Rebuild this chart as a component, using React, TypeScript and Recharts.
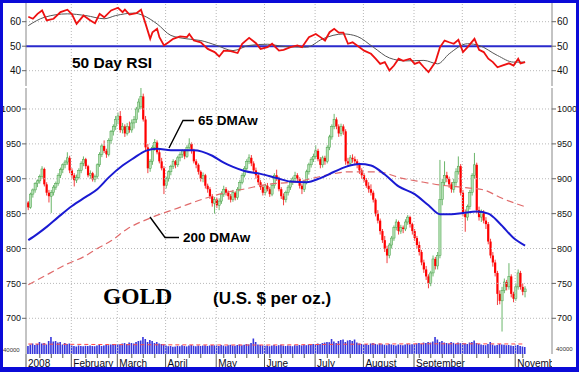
import React from 'react';
import { ComposedChart, Bar, Line, XAxis, YAxis, ReferenceLine } from 'recharts';

type OHLC = [number, number, number, number]; // open, high, low, close

const janCandles: OHLC[] = [
  [866, 868, 855, 859], [859, 880, 857, 878], [878, 886, 873, 884], [884, 895, 880, 893], [893, 899, 888, 897],
  [897, 906, 893, 903], [903, 918, 900, 914], [914, 916, 889, 892], [892, 895, 876, 880], [880, 884, 866, 875],
  [875, 884, 851, 880], [880, 891, 876, 888], [888, 896, 884, 893], [893, 908, 890, 905], [905, 916, 901, 913],
  [913, 922, 908, 920], [920, 927, 915, 924], [924, 938, 920, 930], [930, 933, 908, 912],
];
const febCandles: OHLC[] = [
  [912, 915, 900, 905], [905, 908, 889, 898], [898, 906, 894, 902], [902, 915, 899, 912], [912, 925, 908, 922],
  [922, 932, 918, 928], [928, 930, 914, 918], [918, 920, 902, 905], [905, 912, 900, 908], [908, 910, 896, 899],
  [899, 906, 895, 903], [903, 922, 900, 920], [920, 938, 917, 935], [935, 950, 931, 947], [947, 955, 937, 940],
  [940, 943, 930, 935], [935, 958, 932, 955], [955, 970, 950, 968], [968, 978, 962, 975], [975, 990, 970, 985],
];
const marCandles: OHLC[] = [
  [985, 995, 978, 990], [990, 997, 966, 970], [970, 980, 965, 975], [975, 978, 960, 965], [965, 980, 962, 975],
  [975, 982, 966, 970], [970, 985, 966, 980], [980, 990, 972, 985], [985, 1003, 980, 1000], [1000, 1015, 995, 1010],
  [1003, 1034, 1000, 1018], [1018, 1022, 982, 985], [985, 990, 940, 945], [945, 950, 908, 915], [915, 928, 910, 925],
  [925, 948, 920, 945], [945, 957, 940, 952], [952, 955, 935, 938], [938, 942, 922, 925], [925, 930, 912, 915],
  [915, 918, 878, 890],
];
const aprCandles: OHLC[] = [
  [890, 903, 886, 900], [900, 912, 896, 910], [910, 920, 905, 918], [918, 928, 914, 925], [925, 927, 915, 920],
  [920, 933, 917, 930], [930, 938, 925, 935], [935, 942, 930, 940], [940, 942, 928, 932], [932, 948, 930, 945],
  [945, 958, 942, 950], [950, 952, 936, 940], [940, 943, 922, 925], [925, 928, 915, 920], [920, 922, 906, 910],
  [910, 912, 896, 900], [900, 909, 895, 905], [905, 907, 886, 890], [890, 893, 880, 885], [885, 888, 871, 875],
  [875, 878, 860, 865], [865, 874, 850, 870],
];
const mayCandles: OHLC[] = [
  [870, 873, 858, 862], [862, 872, 855, 868], [868, 882, 864, 878], [878, 890, 874, 885], [885, 888, 876, 880],
  [880, 883, 870, 875], [875, 878, 866, 870], [870, 884, 867, 880], [880, 882, 869, 873], [873, 888, 870, 885],
  [885, 898, 882, 895], [895, 908, 892, 905], [905, 918, 902, 915], [915, 928, 912, 925], [925, 935, 921, 930],
  [930, 934, 918, 922], [922, 925, 908, 912], [912, 916, 900, 905], [905, 908, 891, 895], [895, 898, 884, 888],
  [888, 891, 876, 880],
];
const junCandles: OHLC[] = [
  [880, 893, 876, 890], [890, 894, 882, 885], [885, 888, 874, 878], [878, 893, 875, 890], [890, 908, 886, 905],
  [905, 913, 897, 900], [900, 903, 882, 885], [885, 888, 871, 875], [875, 879, 862, 870], [870, 883, 866, 880],
  [880, 891, 876, 888], [888, 898, 884, 895], [895, 903, 891, 900], [900, 910, 896, 905], [905, 908, 896, 900],
  [900, 902, 886, 890], [890, 893, 878, 885], [885, 898, 881, 895], [895, 913, 892, 910], [910, 923, 906, 920],
  [920, 931, 916, 928], [928, 936, 924, 932],
];
const julCandles: OHLC[] = [
  [932, 948, 928, 940], [940, 943, 925, 928], [928, 931, 915, 920], [920, 933, 916, 930], [930, 933, 920, 925],
  [925, 948, 922, 945], [945, 963, 941, 960], [960, 978, 956, 975], [975, 993, 971, 985], [985, 988, 971, 975],
  [975, 978, 960, 965], [965, 979, 961, 975], [975, 978, 963, 968], [968, 971, 920, 925], [925, 930, 917, 922],
  [922, 934, 918, 930], [930, 935, 923, 928], [928, 932, 920, 925], [925, 928, 915, 920], [920, 923, 907, 912],
  [912, 915, 900, 905],
];
const augCandles: OHLC[] = [
  [905, 908, 895, 898], [898, 901, 887, 890], [890, 895, 880, 885], [885, 892, 876, 880], [880, 883, 866, 870],
  [870, 872, 846, 850], [850, 855, 836, 840], [840, 843, 820, 825], [825, 828, 808, 812], [812, 818, 795, 800],
  [800, 804, 779, 790], [790, 808, 786, 805], [805, 818, 800, 815], [815, 833, 811, 830], [830, 842, 826, 838],
  [838, 840, 820, 825], [825, 834, 821, 830], [830, 833, 822, 828], [828, 842, 825, 838], [838, 848, 834, 845],
  [845, 847, 830, 835], [835, 837, 820, 825],
];
const sepCandles: OHLC[] = [
  [825, 828, 811, 815], [815, 818, 800, 805], [805, 810, 790, 795], [795, 798, 776, 780], [780, 784, 765, 770],
  [770, 775, 755, 760], [760, 763, 743, 750], [750, 768, 746, 765], [765, 790, 760, 785], [785, 788, 770, 775],
  [775, 795, 770, 790], [790, 927, 786, 870], [870, 900, 862, 895], [895, 925, 890, 905], [905, 910, 895, 900],
  [900, 903, 887, 892], [892, 895, 880, 885], [885, 900, 880, 895], [895, 915, 890, 910], [910, 932, 906, 918],
  [918, 921, 876, 880],
];
const octCandles: OHLC[] = [
  [880, 884, 846, 850], [850, 856, 824, 845], [845, 863, 840, 860], [860, 884, 856, 880], [880, 908, 876, 905],
  [905, 937, 900, 920], [920, 923, 850, 855], [855, 860, 840, 845], [845, 856, 838, 852], [852, 855, 836, 840],
  [840, 845, 828, 835], [835, 838, 806, 810], [810, 814, 786, 790], [790, 795, 774, 780], [780, 784, 760, 765],
  [765, 768, 719, 735], [735, 740, 720, 725], [725, 745, 681, 740], [740, 757, 736, 752], [752, 755, 740, 745],
  [745, 779, 741, 760], [760, 763, 730, 735], [735, 738, 723, 728],
];
const novCandles: OHLC[] = [
  [728, 750, 725, 745], [745, 770, 741, 765], [765, 768, 741, 745], [745, 750, 733, 738], [738, 746, 730, 742],
];

const volJan = [80, 95, 105, 90, 100, 120, 105, 110, 95, 130, 170, 125, 130, 115, 120, 95, 110, 100, 105];
const volFeb = [85, 80, 75, 85, 80, 78, 82, 80, 85, 80, 78, 85, 90, 80, 85, 90, 88, 95, 100, 95];
const volMar = [100, 95, 105, 110, 100, 115, 110, 105, 120, 130, 135, 170, 150, 120, 140, 130, 110, 120, 105, 100, 95];
const volApr = [85, 78, 80, 72, 75, 82, 78, 88, 80, 76, 85, 90, 82, 78, 86, 80, 84, 88, 80, 85, 90, 86];
const volMay = [85, 80, 90, 84, 78, 88, 92, 86, 82, 90, 95, 88, 92, 100, 96, 110, 155, 120, 95, 90, 86];
const volJun = [82, 86, 78, 84, 90, 80, 88, 92, 84, 80, 86, 82, 78, 88, 84, 90, 86, 92, 88, 95, 90, 100];
const volJul = [96, 105, 100, 110, 115, 120, 118, 150, 125, 110, 130, 140, 145, 120, 135, 140, 130, 145, 115, 105, 100];
const volAug = [95, 100, 90, 105, 110, 100, 95, 105, 98, 92, 88, 100, 95, 90, 85, 95, 92, 88, 96, 100, 95, 98];
const volSep = [100, 105, 110, 100, 115, 110, 120, 115, 125, 170, 145, 120, 130, 115, 110, 105, 120, 112, 100, 115, 108];
const volOct = [110, 105, 100, 115, 120, 135, 110, 100, 95, 90, 88, 100, 120, 95, 85, 90, 100, 95, 92, 88, 90, 86, 80];
const volNov = [85, 90, 80, 75, 70];

const ma65Points: [number, number][] = [
  [0, 812], [4, 821], [8, 831], [13, 845], [19, 861], [25, 874], [30, 885], [35, 902], [41, 919], [46, 930],
  [51, 940], [56, 943], [62, 941], [72, 941], [80, 933], [85, 923], [89, 917], [94, 911], [101, 907], [108, 901],
  [114, 896], [121, 895], [127, 901], [133, 910], [138, 917], [144, 921], [149, 919], [155, 906], [161, 889],
  [168, 878], [174, 862], [179, 849], [184, 849], [189, 851], [195, 853], [200, 850], [205, 836], [211, 815], [216, 804],
];
const ma200Points: [number, number][] = [
  [0, 748], [9, 764], [17, 778], [24, 788], [30, 800], [36, 811], [43, 828], [54, 845], [65, 858], [77, 872],
  [87, 881], [95, 886], [102, 891], [117, 896], [128, 904], [140, 910], [152, 910], [162, 901], [172, 895],
  [179, 891], [191, 887], [198, 884], [206, 872], [216, 860],
];
const volMaPoints: [number, number][] = [
  [0, 100], [30, 95], [60, 92], [100, 90], [140, 98], [180, 102], [216, 100],
];
const rsiPoints: [number, number][] = [
  [0, 62], [2, 61.2], [4, 63.2], [6, 64.6], [8, 60.5], [11, 61.2], [14, 63.9], [17, 64.9], [19, 63], [21, 59.1],
  [24, 62.5], [27, 60.5], [29, 59.4], [31, 63.2], [33, 61.8], [36, 64.6], [39, 65.7], [41, 63.9], [42, 64.9],
  [44, 62.9], [47, 63.5], [49, 64.9], [51, 59.1], [53, 53], [54, 55.7], [56, 57.1], [57, 53.7], [59, 50.3],
  [61, 51.6], [63, 53], [66, 54], [69, 53.7], [70, 55], [72, 52.3], [75, 51.6], [78, 48.9], [81, 47.6],
  [83, 45.8], [85, 48.2], [88, 48], [91, 47.2], [93, 51], [96, 53.4], [99, 51.2], [101, 48.9], [104, 49.6],
  [106, 51], [109, 48.2], [111, 48.5], [114, 49.6], [117, 50.3], [119, 49.6], [122, 53.7], [125, 55],
  [127, 53.7], [129, 52.3], [131, 55.7], [133, 57.1], [135, 55.5], [137, 55.5], [139, 51], [141, 51.6],
  [144, 49.6], [146, 48.2], [149, 46.9], [151, 44.9], [153, 42.8], [155, 43.5], [157, 40.1], [159, 42.1],
  [161, 44.9], [163, 44], [166, 44.9], [168, 42.8], [170, 43.5], [172, 41.4], [174, 39.4], [175, 40.8],
  [177, 43.5], [179, 49.6], [181, 52.3], [183, 51.6], [185, 51], [187, 52.6], [189, 47.6], [191, 49.6],
  [194, 53], [196, 48.5], [198, 47.6], [200, 44.9], [202, 43.5], [204, 41.4], [206, 42.1], [209, 43],
  [211, 42.1], [213, 44.9], [214, 43], [216, 43.5],
];
const rsiSignalPoints: [number, number][] = [
  [0, 58.4], [7, 61.8], [17, 63.2], [25, 62.5], [33, 61.2], [38, 62.5], [46, 63.5], [50, 62.5], [56, 59.1],
  [62, 54.4], [69, 53], [75, 52.3], [82, 50.3], [89, 48.2], [96, 50.3], [104, 50.8], [111, 49.9], [121, 49.6],
  [128, 53], [137, 55], [143, 54], [150, 49.6], [157, 45.2], [164, 44], [172, 44.2], [178, 42.8], [183, 46.9],
  [191, 51], [196, 50.3], [204, 46.2], [211, 43.5], [216, 43.5],
];

const monthTickIdx = [-1, 18.7, 38.7, 59.7, 81.7, 102.7, 124.7, 145.7, 167.7, 188.7, 211.7];
const monthLabels = ['2008', 'February', 'March', 'April', 'May', 'June', 'July', 'August', 'September', '', 'November'];
const priceTicks = [700, 750, 800, 850, 900, 950, 1000];
const rsiTicks = [40, 50, 60];

const allCandles: OHLC[] = [
  ...janCandles, ...febCandles, ...marCandles, ...aprCandles, ...mayCandles, ...junCandles,
  ...julCandles, ...augCandles, ...sepCandles, ...octCandles, ...novCandles,
];
const allVolumes = [
  ...volJan, ...volFeb, ...volMar, ...volApr, ...volMay, ...volJun,
  ...volJul, ...volAug, ...volSep, ...volOct, ...volNov,
];

const rows: any[] = allCandles.map(([o, h, l, c], i) => ({ i, o, h, l, c, range: [l, h], vol: allVolumes[i] }));
const put = (pts: [number, number][], key: string) => pts.forEach(([i, v]) => { if (rows[i]) rows[i][key] = v; });
put(ma65Points, 'ma65');
put(ma200Points, 'ma200');
put(volMaPoints, 'volMa');
put(rsiPoints, 'rsi');
put(rsiSignalPoints, 'rsiSig');

const minorTicks: number[] = [];
for (let k = 0; k <= 216; k += 5) {
  if (!monthTickIdx.some((m) => Math.abs(m - k) < 2)) minorTicks.push(k);
}
const allXTicks = [...monthTickIdx, ...minorTicks].sort((a, b) => a - b);

const X_DOMAIN: [number, number] = [-1, 227.7];
const PRICE_DOMAIN: [number, number] = [648.8, 1030.1];
const RSI_DOMAIN: [number, number] = [33.75, 67.63];
const FONT = 'Arial, "Liberation Sans", sans-serif';
const GRID = '#b8b8b8';
const PRICE_TOP = 2;
const PRICE_PLOT_H = 266;
const AXIS_Y = PRICE_TOP + PRICE_PLOT_H; // x-axis line inside the price chart's svg

function Candle(props: any) {
  const { x, y, width, height, payload } = props;
  if (!payload || height == null || isNaN(y)) return null;
  const { o, c, h, l } = payload;
  const top = Math.min(y, y + height);
  const hgt = Math.abs(height);
  const k = hgt / Math.max(1e-6, h - l);
  const py = (v: number) => top + (h - v) * k;
  const cx = x + width / 2;
  const up = c >= o;
  const bodyTop = py(Math.max(o, c));
  const bodyH = Math.max(1, py(Math.min(o, c)) - bodyTop);
  return (
    <g>
      <line x1={cx} x2={cx} y1={top} y2={top + hgt} stroke={up ? '#5aae5a' : '#f02828'} strokeWidth={0.9} />
      <rect
        x={cx - 1.1}
        y={bodyTop}
        width={2.2}
        height={bodyH}
        fill={up ? '#b4e0b4' : '#ff0000'}
        stroke={up ? '#46a046' : 'none'}
        strokeWidth={0.5}
      />
    </g>
  );
}

function XTick(props: any) {
  const { x, payload } = props;
  const y = AXIS_Y;
  const idx = monthTickIdx.indexOf(payload.value);
  if (idx < 0) {
    return <line x1={x} x2={x} y1={y} y2={y + 4} stroke="#555" strokeWidth={1} />;
  }
  const label = monthLabels[idx];
  return (
    <g>
      <defs>
        <clipPath id={`xclip${idx}`}>
          <rect x={0} y={0} width={552} height={300} />
        </clipPath>
      </defs>
      <line x1={x} x2={x} y1={y} y2={y + 13} stroke="#555" strokeWidth={1} />
      <text
        x={x + 2}
        y={y + 12.5}
        fontSize={10}
        fontFamily={FONT}
        fill="#0a0a20"
        textAnchor="start"
        clipPath={`url(#xclip${idx})`}
      >
        {label}
      </text>
    </g>
  );
}

export default function App() {
  return (
    <div style={{ position: 'absolute', left: 0, top: 0, width: 579, height: 372, background: '#fff', overflow: 'hidden' }}>
      {/* RSI panel */}
      <div style={{ position: 'absolute', left: 0, top: 0 }}>
        <ComposedChart width={579} height={88} data={rows} margin={{ top: 3, right: 0, bottom: 2, left: 0 }}>
          <XAxis xAxisId="x" dataKey="i" type="number" domain={X_DOMAIN} allowDataOverflow hide />
          <YAxis
            yAxisId="rsi"
            orientation="left"
            width={26}
            domain={RSI_DOMAIN}
            allowDataOverflow
            ticks={rsiTicks}
            interval={0}
            tickSize={4}
            tickMargin={1}
            axisLine={{ stroke: '#888' }}
            tickLine={{ stroke: '#666' }}
            tick={{ fontSize: 10, fill: '#111', fontFamily: FONT }}
          />
          <YAxis
            yAxisId="rsiR"
            orientation="right"
            width={27}
            domain={RSI_DOMAIN}
            allowDataOverflow
            ticks={rsiTicks}
            interval={0}
            tickSize={4}
            tickMargin={1}
            axisLine={{ stroke: '#888' }}
            tickLine={{ stroke: '#666' }}
            tick={{ fontSize: 10, fill: '#111', fontFamily: FONT }}
          />
          {monthTickIdx.slice(1).map((t) => (
            <ReferenceLine key={`rv${t}`} xAxisId="x" yAxisId="rsi" x={t} stroke={GRID} strokeDasharray="1 2" />
          ))}
          {[40, 60].map((t) => (
            <ReferenceLine key={`rh${t}`} xAxisId="x" yAxisId="rsi" y={t} stroke={GRID} strokeDasharray="1 2" />
          ))}
          <ReferenceLine xAxisId="x" yAxisId="rsi" y={50} stroke="#2a2acc" strokeWidth={2} />
          <Line
            xAxisId="x"
            yAxisId="rsi"
            dataKey="rsiSig"
            type="monotone"
            stroke="#555"
            strokeWidth={1}
            dot={false}
            connectNulls
            isAnimationActive={false}
          />
          <Line
            xAxisId="x"
            yAxisId="rsi"
            dataKey="rsi"
            type="linear"
            stroke="#ee1111"
            strokeWidth={1.8}
            dot={false}
            connectNulls
            isAnimationActive={false}
          />
        </ComposedChart>
      </div>

      {/* Price panel */}
      <div style={{ position: 'absolute', left: 0, top: 86 }}>
        <ComposedChart width={579} height={286} data={rows} margin={{ top: PRICE_TOP, right: 0, bottom: 0, left: 0 }}>
          <XAxis
            xAxisId="x"
            dataKey="i"
            type="number"
            domain={X_DOMAIN}
            allowDataOverflow
            ticks={allXTicks}
            interval={0}
            height={18}
            tickSize={0}
            tickMargin={0}
            tickLine={false}
            axisLine={{ stroke: '#666' }}
            tick={<XTick />}
          />
          <XAxis xAxisId="v" dataKey="i" type="number" domain={X_DOMAIN} allowDataOverflow hide />
          <YAxis
            yAxisId="price"
            orientation="left"
            width={26}
            domain={PRICE_DOMAIN}
            allowDataOverflow
            ticks={priceTicks}
            interval={0}
            tickSize={4}
            tickMargin={1}
            axisLine={{ stroke: '#888' }}
            tickLine={{ stroke: '#666' }}
            tick={{ fontSize: 9, fill: '#111', fontFamily: FONT }}
          />
          <YAxis
            yAxisId="priceR"
            orientation="right"
            width={27}
            domain={PRICE_DOMAIN}
            allowDataOverflow
            ticks={priceTicks}
            interval={0}
            tickSize={4}
            tickMargin={1}
            axisLine={{ stroke: '#888' }}
            tickLine={{ stroke: '#666' }}
            tick={{ fontSize: 9, fill: '#111', fontFamily: FONT }}
          />
          <YAxis yAxisId="vol" hide domain={[0, 2660]} allowDataOverflow />
          {monthTickIdx.slice(1).map((t) => (
            <ReferenceLine key={`pv${t}`} xAxisId="x" yAxisId="price" x={t} stroke={GRID} strokeDasharray="1 2" />
          ))}
          {priceTicks.map((t) => (
            <ReferenceLine key={`ph${t}`} xAxisId="x" yAxisId="price" y={t} stroke={GRID} strokeDasharray="1 2" />
          ))}
          <Bar
            xAxisId="v"
            yAxisId="vol"
            dataKey="vol"
            barSize={1.6}
            fill="#3535dc"
            isAnimationActive={false}
          />
          <Line
            xAxisId="x"
            yAxisId="vol"
            dataKey="volMa"
            type="monotone"
            stroke="#ff4a4a"
            strokeWidth={1}
            strokeDasharray="4 3"
            dot={false}
            connectNulls
            isAnimationActive={false}
          />
          <Line
            xAxisId="x"
            yAxisId="price"
            dataKey="ma200"
            type="monotone"
            stroke="#e06a6a"
            strokeWidth={1.2}
            strokeDasharray="7 4"
            dot={false}
            connectNulls
            isAnimationActive={false}
          />
          <Bar
            xAxisId="x"
            yAxisId="price"
            dataKey="range"
            barSize={2.2}
            shape={(p: any) => <Candle {...p} />}
            isAnimationActive={false}
          />
          <Line
            xAxisId="x"
            yAxisId="price"
            dataKey="ma65"
            type="monotone"
            stroke="#1a1ad2"
            strokeWidth={2}
            dot={false}
            connectNulls
            isAnimationActive={false}
          />
        </ComposedChart>
      </div>

      {/* Labels and leader lines */}
      <svg width={579} height={372} style={{ position: 'absolute', left: 0, top: 0, pointerEvents: 'none' }}>
        <text x={72} y={68} fontSize={15.5} fontWeight="bold" fontFamily={FONT} fill="#000">50 Day RSI</text>
        <polyline points="194,120.5 183,120.5 169,148" fill="none" stroke="#000" strokeWidth={1.4} />
        <text x={198} y={125} fontSize={13.5} fontWeight="bold" fontFamily={FONT} fill="#000">65 DMAw</text>
        <polyline points="179,237.5 165,237.5 150,217" fill="none" stroke="#000" strokeWidth={1.4} />
        <text x={183} y={242} fontSize={13.5} fontWeight="bold" fontFamily={FONT} fill="#000">200 DMAw</text>
        <text x={103} y={304} fontSize={23.5} fontWeight="bold" fontFamily={'"Liberation Serif", "Times New Roman", serif'} fill="#000">GOLD</text>
        <text x={213} y={304} fontSize={17} fontWeight="bold" fontFamily={FONT} fill="#000">(U.S. $ per oz.)</text>
        <text x={3} y={352} fontSize={6} fontFamily={FONT} fill="#333">40000</text>
        <text x={556} y={351} fontSize={6} fontFamily={FONT} fill="#333">40000</text>
      </svg>

      {/* Frame */}
      <div
        style={{
          position: 'absolute',
          left: 0,
          top: 0,
          width: 579,
          height: 372,
          boxSizing: 'border-box',
          borderStyle: 'solid',
          borderColor: '#0b0bd8',
          borderWidth: '3px 3px 5px 3px',
          pointerEvents: 'none',
        }}
      />
    </div>
  );
}
